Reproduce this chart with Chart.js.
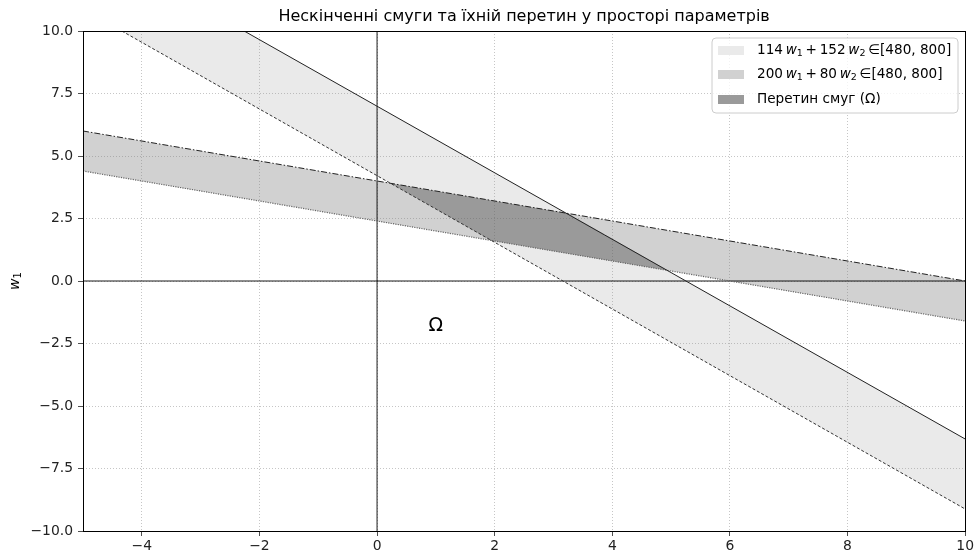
<!DOCTYPE html>
<html><head><meta charset="utf-8">
<script src="https://cdn.jsdelivr.net/npm/chart.js@4/dist/chart.umd.min.js"></script>
<style>html,body{margin:0;padding:0;background:#fff}#wrap{width:976px;height:556px}</style>
</head><body><div id="wrap"><canvas id="c" width="976" height="556"></canvas></div>
<script>
const xTicks=[-4,-2,0,2,4,6,8,10];
const yTicks=[-10,-7.5,-5,-2.5,0,2.5,5,7.5,10];
const band1Upper=[[-2.26,10],[10,-6.32]];
const band1Lower=[[-4.34,10],[10,-9.12]];
const band2Upper=[[-5,6],[10,0]];
const band2Lower=[[-5,4.4],[10,-1.6]];
const intersection=[[0.23,3.91],[3.24,2.71],[4.95,0.42],[1.94,1.62]];
const axisX=[[-5,0],[10,0]];
const axisY=[[0,-10],[0,10]];
const omegaLabel={x:1.0,y:-1.75,text:'Ω'};
const titleText='Нескінченні смуги та їхній перетин у просторі параметрів';
const legend1=[['114\u2009','n'],['w','i'],['1','s'],['\u2009+\u2009152\u2009','n'],['w','i'],['2','s'],['\u2009∈[480, 800]','n']];
const legend2=[['200\u2009','n'],['w','i'],['1','s'],['\u2009+\u200980\u2009','n'],['w','i'],['2','s'],['\u2009∈[480, 800]','n']];
const legend3=[['Перетин смуг (Ω)','n']];

const FONT='"DejaVu Sans", sans-serif';
const C1='rgba(128,128,128,0.17)', C2='rgba(128,128,128,0.36)', C3='rgba(60,60,60,0.30)';
const pts=a=>a.map(p=>({x:p[0],y:p[1]}));
const poly=(u,l)=>pts(u.concat(l.slice().reverse()));
const minus=s=>String(s).replace('-','−');

function lineDs(d,color,dash,w,order){
  return {data:pts(d),showLine:true,borderColor:color,borderWidth:w,borderDash:dash,pointRadius:0,fill:false,order:order,tension:0};
}
function fillDs(d,color,order){
  return {data:d,showLine:true,borderWidth:0,borderColor:'rgba(0,0,0,0)',backgroundColor:color,pointRadius:0,fill:'shape',order:order,tension:0};
}

function drawRich(ctx,x,y,segs,size){
  let cx=x;
  for(const [t,k] of segs){
    if(k==='s'){ctx.font=(size*0.7)+'px '+FONT;ctx.fillText(t,cx,y+size*0.25);}
    else if(k==='i'){ctx.font='italic '+size+'px '+FONT;ctx.fillText(t,cx,y);}
    else {ctx.font=size+'px '+FONT;ctx.fillText(t,cx,y);}
    cx+=ctx.measureText(t).width;
  }
}

const deco={
  id:'deco',
  afterDatasetsDraw(chart){
    const ctx=chart.ctx,xs=chart.scales.x,ys=chart.scales.y;
    ctx.save();
    ctx.fillStyle='#000';ctx.font='19px '+FONT;ctx.textAlign='center';ctx.textBaseline='middle';
    ctx.fillText(omegaLabel.text,xs.getPixelForValue(omegaLabel.x),ys.getPixelForValue(omegaLabel.y)+1);
    ctx.restore();
  },
  afterDraw(chart){
    const ctx=chart.ctx,a=chart.chartArea;
    ctx.save();
    ctx.strokeStyle='#000';ctx.lineWidth=1;ctx.setLineDash([]);
    ctx.strokeRect(Math.round(a.left)+0.5,Math.round(a.top)+0.5,Math.round(a.right-a.left),Math.round(a.bottom-a.top));
    // title
    ctx.fillStyle='#000';ctx.font='16px '+FONT;ctx.textAlign='center';ctx.textBaseline='middle';
    ctx.fillText(titleText,(a.left+a.right)/2,17);
    // y label
    ctx.save();ctx.translate(15,282);ctx.rotate(-Math.PI/2);ctx.textAlign='left';
    ctx.font='italic 14px '+FONT;const ww=ctx.measureText('w').width;
    ctx.fillText('w',-8,0);ctx.font='10px '+FONT;ctx.fillText('1',-8+ww,3.5);
    ctx.restore();
    // legend
    const lx=712,ly=38,lw=246,lh=75,r=4;
    ctx.beginPath();
    ctx.moveTo(lx+r,ly);ctx.lineTo(lx+lw-r,ly);ctx.arcTo(lx+lw,ly,lx+lw,ly+r,r);
    ctx.lineTo(lx+lw,ly+lh-r);ctx.arcTo(lx+lw,ly+lh,lx+lw-r,ly+lh,r);
    ctx.lineTo(lx+r,ly+lh);ctx.arcTo(lx,ly+lh,lx,ly+lh-r,r);
    ctx.lineTo(lx,ly+r);ctx.arcTo(lx,ly,lx+r,ly,r);ctx.closePath();
    ctx.fillStyle='rgba(255,255,255,0.8)';ctx.fill();
    ctx.strokeStyle='#cccccc';ctx.lineWidth=1;ctx.stroke();
    const rows=[[legend1,C1,50],[legend2,C2,74],[legend3,null,99]];
    ctx.textAlign='left';ctx.textBaseline='middle';
    for(const [segs,col,yy] of rows){
      ctx.fillStyle='#fff';ctx.fillRect(718,yy-4,26,9);
      if(col){ctx.fillStyle=col;ctx.fillRect(718,yy-4,26,9);}
      else {ctx.fillStyle=C2;ctx.fillRect(718,yy-4,26,9);ctx.fillStyle=C1;ctx.fillRect(718,yy-4,26,9);ctx.fillStyle=C3;ctx.fillRect(718,yy-4,26,9);}
      ctx.fillStyle='#000';
      drawRich(ctx,757,yy,segs,13.6);
    }
    ctx.restore();
  }
};

const gridCommon={color:'#b8b8b8',lineWidth:0.8,drawTicks:true,tickLength:5,tickColor:'#222',tickWidth:0.8,tickBorderDash:[]};
const tickFont={family:FONT,size:13.9};

new Chart(document.getElementById('c'),{
  type:'scatter',
  data:{datasets:[
    fillDs(poly(band1Upper,band1Lower),C1,20),
    fillDs(poly(band2Upper,band2Lower),C2,19),
    fillDs(pts(intersection),C3,18),
    lineDs(axisX,'#000',[],0.9,12),
    lineDs(axisY,'#000',[],0.9,12),
    lineDs(band1Upper,'#222',[],1,5),
    lineDs(band1Lower,'#333',[3,2],1,5),
    lineDs(band2Upper,'#222',[6,2,1.5,2],1,5),
    lineDs(band2Lower,'#666',[1.2,1.2],1.2,5)
  ]},
  options:{
    responsive:false,devicePixelRatio:1,animation:false,
    layout:{padding:{top:31,right:10,left:0,bottom:0}},
    plugins:{legend:{display:false},title:{display:false},tooltip:{enabled:false}},
    scales:{
      x:{type:'linear',min:-5,max:10,
        afterBuildTicks:s=>{s.ticks=xTicks.map(v=>({value:v}));},
        afterFit:s=>{s.height=25;},
        ticks:{callback:v=>minus(v),font:tickFont,color:'#222',padding:2,maxRotation:0,autoSkip:false},
        grid:gridCommon,border:{display:false,dash:[1,2]}},
      y:{type:'linear',min:-10,max:10,
        afterBuildTicks:s=>{s.ticks=yTicks.map(v=>({value:v}));},
        afterFit:s=>{s.width=83;},
        ticks:{callback:v=>minus(Number(v).toFixed(1)),font:tickFont,color:'#222',padding:5,autoSkip:false},
        grid:gridCommon,border:{display:false,dash:[1,2]}}
    }
  },
  plugins:[deco]
});
</script></body></html>
